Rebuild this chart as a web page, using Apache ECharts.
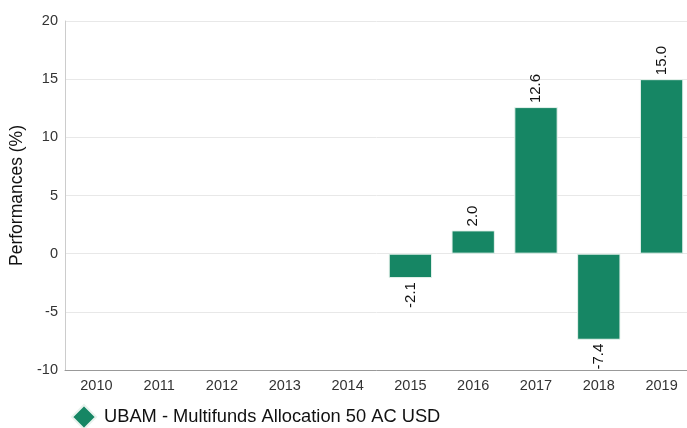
<!DOCTYPE html>
<html><head><meta charset="utf-8">
<script src="https://cdn.jsdelivr.net/npm/echarts@6/dist/echarts.min.js"></script>
<style>html,body{margin:0;padding:0;background:#fff}#c{width:687px;height:428px}</style>
</head><body><div id="c"></div>
<script>
var categories = ['2010','2011','2012','2013','2014','2015','2016','2017','2018','2019'];
var values = [null,null,null,null,null,-2.1,2.0,12.6,-7.4,15.0];
var seriesName = 'UBAM - Multifunds Allocation 50 AC USD';
var yTicks = [-10,-5,0,5,10,15,20];

var chart = echarts.init(document.getElementById('c'));
var data = values.map(function(v){
  if (v === null) return null;
  return {value: v, label: v < 0 ? {position:'bottom', align:'right', verticalAlign:'middle'} : {position:'top', align:'left', verticalAlign:'middle'}};
});
chart.setOption({
  animation:false,
  textStyle:{fontFamily:'Liberation Sans, Arial, sans-serif'},
  grid:{left:65, top:21, right:-6, height:349, outerBoundsMode:'none', containLabel:false},
  legend:{left:66, top:399, icon:'diamond', itemWidth:24, itemHeight:24, itemGap:8,
    textStyle:{fontSize:18.3, color:'#111', padding:[0,0,0,3], fontFamily:'Liberation Sans, Arial, sans-serif'}, data:[seriesName]},
  xAxis:{type:'category', data:categories,
    axisLine:{onZero:false, lineStyle:{color:'#999'}}, axisTick:{show:false},
    axisLabel:{color:'#333', fontSize:14.5, margin:8}},
  yAxis:{type:'value', min:yTicks[0], max:yTicks[yTicks.length-1], interval:5,
    name:'Performances (%)', nameLocation:'middle', nameGap:39,
    nameTextStyle:{fontSize:17.5, color:'#111'},
    axisLine:{show:true, lineStyle:{color:'#ccc'}}, axisTick:{show:false},
    axisLabel:{color:'#333', fontSize:14.5, margin:7},
    splitLine:{lineStyle:{color:'#e8e8e8'}}},
  series:[{name:seriesName, type:'bar', data:data, barWidth:'69%',
    itemStyle:{color:'#168664', borderColor:'#e8f3ee', borderWidth:1},
    label:{show:true, rotate:90, distance:4, fontSize:15, color:'#111',
      formatter:function(p){return p.value.toFixed(1);}}}]
});
</script></body></html>
